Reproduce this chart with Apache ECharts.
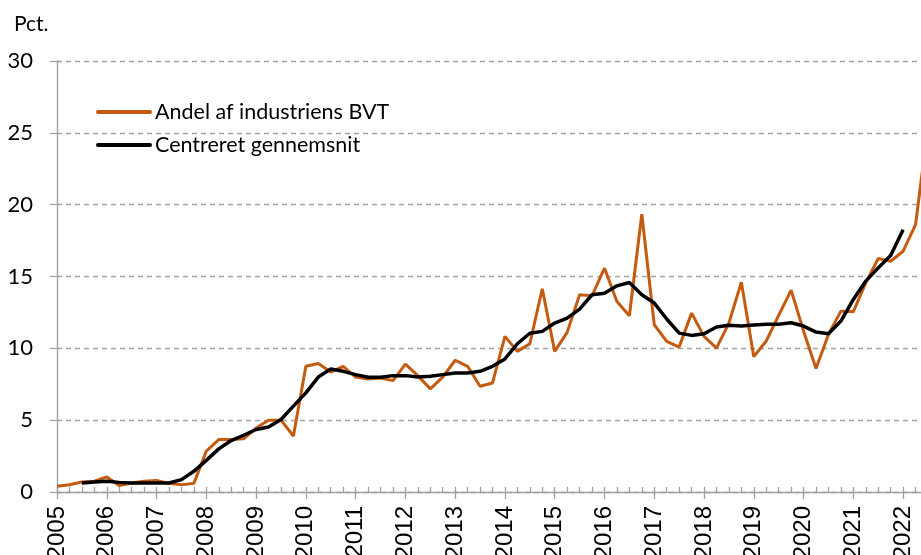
<!DOCTYPE html>
<html>
<head>
<meta charset="utf-8">
<script src="https://cdn.jsdelivr.net/npm/echarts@6/dist/echarts.min.js"></script>
<style>
  html, body { margin: 0; padding: 0; background: #fff; }
  #chart { width: 921px; height: 555px; }
</style>
</head>
<body>
<div id="chart"></div>
<script>
// kvartaler 2005K1 - 2022K3
var years = [2005, 2006, 2007, 2008, 2009, 2010, 2011, 2012, 2013, 2014,
             2015, 2016, 2017, 2018, 2019, 2020, 2021, 2022];
var quarters = ['K1', 'K2', 'K3', 'K4'];

// Andel af industriens BVT, pct.
var andelBVT = [
  0.4, 0.5, 0.7, 0.75, 1.05, 0.45, 0.63, 0.75, 0.8, 0.6, 0.5, 0.6,
  2.85, 3.65, 3.65, 3.7, 4.45, 5.0, 5.0, 3.9, 8.75, 8.95, 8.35, 8.75,
  8.0, 7.87, 7.94, 7.75, 8.9, 8.1, 7.18, 8.0, 9.17, 8.75, 7.36, 7.59,
  10.83, 9.79, 10.32, 14.15, 9.79, 11.11, 13.73, 13.66, 15.58, 13.26, 12.27, 19.33,
  11.64, 10.49, 10.09, 12.45, 10.83, 10.02, 11.76, 14.6, 9.42, 10.51, 12.29, 14.05,
  11.2, 8.59, 10.97, 12.59, 12.55, 14.56, 16.25, 16.06, 16.76, 18.61, 25.4
];

// Centreret gennemsnit
var centreret = [
  null, null, 0.63, 0.7, 0.75, 0.67, 0.63, 0.63, 0.63, 0.63, 0.86, 1.44,
  2.2, 3.0, 3.58, 3.95, 4.35, 4.53, 5.05, 5.98, 6.9, 8.0, 8.56, 8.4,
  8.17, 7.99, 7.99, 8.1, 8.1, 8.0, 8.05, 8.17, 8.29, 8.29, 8.4, 8.75,
  9.26, 10.32, 11.05, 11.18, 11.76, 12.1, 12.73, 13.73, 13.84, 14.35, 14.58, 13.73,
  13.15, 12.04, 11.06, 10.9, 11.02, 11.48, 11.6, 11.55, 11.62, 11.67, 11.67, 11.78,
  11.55, 11.13, 11.02, 11.9, 13.4, 14.68, 15.6, 16.46, 18.26, null, null
];

var categories = [];
years.forEach(function (y) {
  quarters.forEach(function (q) {
    if (categories.length < andelBVT.length) categories.push(y + q);
  });
});

var gridColor = '#a3a3a3';
var axisColor = '#a0a0a0';

var myChart = echarts.init(document.getElementById('chart'));
var option = {
  animation: false,
  backgroundColor: '#fff',
  title: {
    text: 'Pct.',
    left: 9,
    top: 9,
    textStyle: { fontFamily: 'Lato', fontSize: 21, fontWeight: 'normal', color: '#000' }
  },
  legend: {
    orient: 'vertical',
    left: 96,
    top: 101,
    padding: 0,
    itemWidth: 52,
    itemHeight: 14,
    itemGap: 11,
    itemStyle: { opacity: 0, borderWidth: 0 },
    lineStyle: { width: 4, cap: 'round' },
    textStyle: { fontFamily: 'Lato', fontSize: 21.5, color: '#000', lineHeight: 22 },
    data: ['Andel af industriens BVT', 'Centreret gennemsnit']
  },
  grid: {
    left: 57,
    width: 871,
    top: 61,
    bottom: 63,
    containLabel: false,
    outerBoundsMode: 'none'
  },
  xAxis: [{
    type: 'category',
    data: categories,
    boundaryGap: false,
    axisLine: { lineStyle: { color: axisColor, width: 1.3 } },
    axisTick: { interval: 3, length: 7, lineStyle: { color: axisColor, width: 1.3 } },
    axisLabel: {
      interval: 3,
      rotate: 90,
      margin: 14,
      fontFamily: 'Liberation Sans',
      fontSize: 24,
      color: '#000',
      formatter: function (v) { return v.slice(0, 4); }
    },
    splitLine: { show: false }
  }, {
    type: 'category',
    data: categories,
    boundaryGap: false,
    position: 'bottom',
    axisLine: { show: false },
    axisTick: { inside: true, interval: 0, length: 5, lineStyle: { color: axisColor, width: 1.3 } },
    axisLabel: { show: false },
    splitLine: { show: false }
  }],
  yAxis: {
    type: 'value',
    min: 0,
    max: 30,
    interval: 5,
    axisLine: { show: true, lineStyle: { color: axisColor, width: 1.3 } },
    axisTick: { show: true, length: 7, lineStyle: { color: axisColor, width: 1.3 } },
    axisLabel: { margin: 24, fontFamily: 'Lato', fontSize: 22, color: '#000' },
    splitLine: { lineStyle: { color: gridColor, type: [5, 4], width: 1.3 } }
  },
  series: [
    {
      name: 'Andel af industriens BVT',
      type: 'line',
      data: andelBVT,
      symbol: 'none',
      lineStyle: { color: '#C55A11', width: 3 },
      itemStyle: { color: '#C55A11' },
      z: 2
    },
    {
      name: 'Centreret gennemsnit',
      type: 'line',
      data: centreret,
      symbol: 'none',
      connectNulls: false,
      lineStyle: { color: '#000', width: 3.5 },
      itemStyle: { color: '#000' },
      z: 3
    }
  ]
};
myChart.setOption(option);
</script>
</body>
</html>
